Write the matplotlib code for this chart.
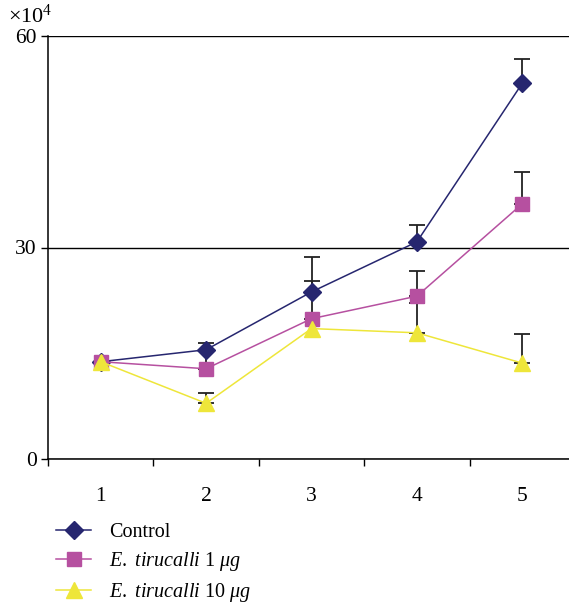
import matplotlib
matplotlib.use("Agg")
import matplotlib.pyplot as plt
import numpy as np

# ---------------------------------------------------------------------------
# Data (values in units of 10^4)
# ---------------------------------------------------------------------------
days = [1, 2, 3, 4, 5]
day_labels = ["1", "2", "3", "4", "5"]

control = [13.8, 15.5, 23.7, 30.8, 53.3]
control_err = [0.0, 1.0, 4.9, 2.4, 3.4]

tir_1 = [13.8, 12.8, 19.9, 23.1, 36.2]
tir_1_err = [0.0, 2.7, 5.4, 3.6, 4.5]

tir_10 = [13.8, 7.9, 18.5, 17.9, 13.6]
tir_10_err = [0.0, 1.5, 0.0, 4.2, 4.1]

y_ticks = [0, 30, 60]

NAVY = "#26266f"
MAGENTA = "#b650a0"
YELLOW = "#eee63a"

plt.rcParams["font.family"] = ["Liberation Serif", "DejaVu Serif"]
plt.rcParams["mathtext.fontset"] = "custom"
plt.rcParams["mathtext.rm"] = "Liberation Serif"
plt.rcParams["mathtext.it"] = "Liberation Serif:italic"

fig = plt.figure(figsize=(5.69, 6.04), dpi=100)
ax = fig.add_axes([48 / 569, 1 - 459 / 604, (575 - 48) / 569, (459 - 36) / 604])

series = [
    (control, control_err, NAVY, "D", 9, "Control"),
    (tir_1, tir_1_err, MAGENTA, "s", 10, r"$\mathit{E.}$ $\mathit{tirucalli}$ 1 $\mathit{μg}$"),
    (tir_10, tir_10_err, YELLOW, "^", 11, r"$\mathit{E.}$ $\mathit{tirucalli}$ 10 $\mathit{μg}$"),
]

x = np.array(days)
handles = []
for vals, err, color, marker, ms, label in series:
    vals = np.array(vals)
    err = np.array(err)
    mask = err > 0
    ax.errorbar(x[mask], vals[mask], yerr=[np.zeros(mask.sum()), err[mask]],
                fmt="none", ecolor="#222222", elinewidth=1.3, capsize=5.5,
                capthick=1.3, zorder=2)
    h, = ax.plot(x, vals, color=color, lw=1.1, marker=marker, ms=ms,
                 markeredgecolor=color, label=label, zorder=3)
    handles.append(h)

ax.set_xlim(0.5, 5.5)
ax.set_ylim(0, 60)
ax.set_yticks(y_ticks)
ax.set_xticks(days)
ax.set_xticklabels(day_labels)
ax.set_xticks(np.arange(0.5, 6.0, 1.0), minor=True)
ax.tick_params(axis="x", which="major", length=0, pad=20, labelsize=15.5)
ax.tick_params(axis="x", which="minor", length=5, width=1, direction="out")
ax.tick_params(axis="y", length=5, width=1, direction="out", labelsize=15.5, pad=3)

ax.grid(axis="y", color="black", lw=1)
ax.set_axisbelow(True)
for side in ("top", "right"):
    ax.spines[side].set_visible(False)
for side in ("left", "bottom"):
    ax.spines[side].set_linewidth(1.1)

fig.text(8 / 569, 1 - 16 / 604, r"$\times10^4$", fontsize=16, va="center", ha="left")

fig.legend(handles=handles, loc="upper left", bbox_to_anchor=(0.085, 0.148),
           frameon=False, fontsize=14.5, handlelength=1.7, handletextpad=0.9,
           labelspacing=0.4, borderaxespad=0)

fig.savefig("out.png", dpi=100)
